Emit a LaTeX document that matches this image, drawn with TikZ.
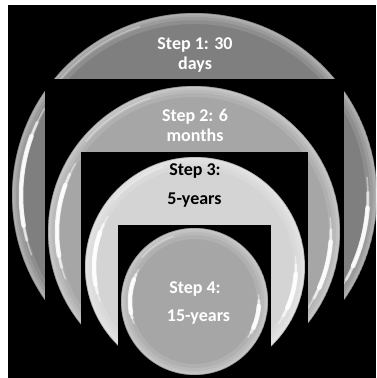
\documentclass[tikz,border=0pt]{standalone}
\usepackage{fontspec}
\setmainfont{Carlito}
\definecolor{ballA}{RGB}{127,127,127}
\definecolor{ballB}{RGB}{166,166,166}
\definecolor{ballC}{RGB}{212,212,212}
\definecolor{ballD}{RGB}{166,166,166}
\newcommand\glossball[4]{%
  \pgfmathsetmacro\hlr{#3-9}%
  \fill[#4] (#1,#2) circle[radius=#3];
  \begin{scope}
    \clip (#1,#2) circle[radius=#3];
    \foreach \w in {2,4,7,11}{%
      \draw[white,opacity=0.12,line width=\w pt] (#1,#2) circle[radius={#3-\w/2}];
    }
  \end{scope}
  \draw[black,opacity=0.25,line width=0.6pt] (#1,#2) circle[radius={#3-0.3}];
  \foreach \s/\w/\o in {0/1.5/0.45,5/3/0.6,10/4.5/0.85}{%
    \draw[white,opacity=\o,line width=\w pt,line cap=round]
      ([shift={(150+\s:\hlr)}]#1,#2) arc[start angle=150+\s,end angle=200-\s,radius=\hlr];
    \draw[white,opacity=\o,line width=\w pt,line cap=round]
      ([shift={(-34+\s:\hlr)}]#1,#2) arc[start angle=-34+\s,end angle=6-\s,radius=\hlr];
  }
  \draw[white,opacity=0.35,line width=1.4pt,line cap=round]
    ([shift={(108:\hlr+4)}]#1,#2) arc[start angle=108,end angle=140,radius=\hlr+4];
}
\tikzset{
  lbl/.style={font=\fontsize{18}{20}\selectfont\bfseries,text=white,inner sep=0pt,anchor=base},
  cutbox/.style={fill=black,draw=none}
}
\begin{document}
\begin{tikzpicture}[x=1pt,y=1pt]
  \useasboundingbox (0,0) rectangle (376,378);
  \fill[white] (0,0) rectangle (376,378);
  \fill[black] (8,0) rectangle (376,373);
  \begin{scope}
    \clip (8,0) rectangle (376,373);
    \glossball{194.5}{182.5}{182.5}{ballA}
    \fill[cutbox] (45,0) rectangle (344,299);
    \glossball{194}{146}{146}{ballB}
    \fill[cutbox] (81,0) rectangle (308,226);
    \glossball{195}{111}{110}{ballC}
    \fill[cutbox] (118,0) rectangle (271,153);
    \glossball{194.5}{76.5}{73.5}{ballD}
  \end{scope}
  \node[lbl] (s1a) at (195,328) {Step 1: 30};
  \node[lbl] (s1b) at (195,308.7) {days};
  \node[lbl] (s2a) at (195,256.3) {Step 2: 6};
  \node[lbl] (s2b) at (195,236.3) {months};
  \node[lbl,text=black] (s3a) at (195,202) {Step 3:};
  \node[lbl,text=black] (s3b) at (194.5,173) {5-years};
  \node[lbl] (s4a) at (195,84) {Step 4:};
  \node[lbl] (s4b) at (198.5,56.5) {15-years};
\end{tikzpicture}
\end{document}
